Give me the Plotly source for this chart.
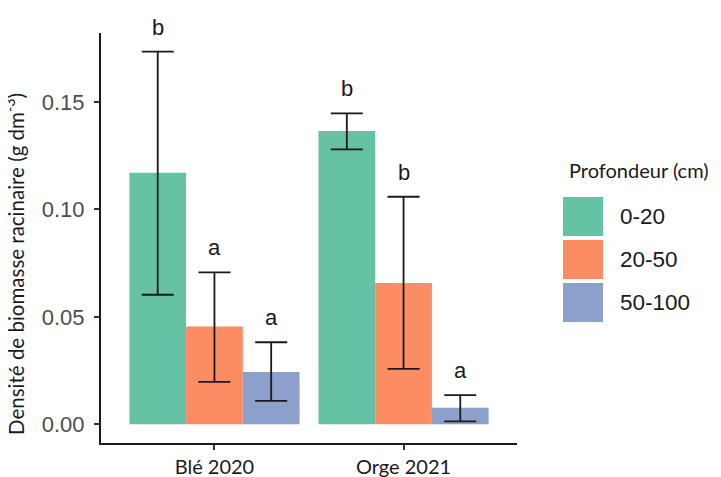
import plotly.graph_objects as go

# ---- data ----
cultures = ["Blé 2020", "Orge 2021"]
profondeurs = ["0-20", "20-50", "50-100"]
moyenne = {
    "0-20": [0.1170, 0.1365],
    "20-50": [0.0455, 0.0658],
    "50-100": [0.0244, 0.0077],
}
erreur_haut = {
    "0-20": [0.1734, 0.1447],
    "20-50": [0.0707, 0.1059],
    "50-100": [0.0382, 0.0136],
}
erreur_bas = {
    "0-20": [0.0603, 0.1279],
    "20-50": [0.0198, 0.0258],
    "50-100": [0.0109, 0.0014],
}
lettres = {
    "0-20": ["b", "b"],
    "20-50": ["a", "b"],
    "50-100": ["a", "a"],
}
y_ticks = [0.00, 0.05, 0.10, 0.15]

couleurs = {"0-20": "#66C2A5", "20-50": "#FC8D62", "50-100": "#8DA0CB"}

# ---- layout geometry (pixels, page coordinates) ----
PAGE_W, PAGE_H = 721, 477
OFF = 8  # default body margin of the html page
FIG_W, FIG_H = PAGE_W - OFF, PAGE_H - OFF
L, T, W, H = 101 - OFF, 33 - OFF, 416, 410


def px_x(px):
    return (px - OFF - L) / W


def px_y(py):
    return (T + H - (py - OFF)) / H


fig = go.Figure()
for p in profondeurs:
    m = moyenne[p]
    fig.add_trace(go.Bar(
        name=p,
        x=cultures,
        y=m,
        marker=dict(color=couleurs[p], line=dict(width=0)),
        error_y=dict(
            type="data",
            symmetric=False,
            array=[h - v for h, v in zip(erreur_haut[p], m)],
            arrayminus=[v - b for v, b in zip(m, erreur_bas[p])],
            color="#1a1a1a",
            thickness=1.8,
            width=16,
        ),
        showlegend=False,
    ))

# significance letters above error bars
n = len(profondeurs)
bar_w = 0.9 / n
for j, p in enumerate(profondeurs):
    for i, c in enumerate(cultures):
        fig.add_annotation(
            x=i + (j - (n - 1) / 2) * bar_w,
            y=erreur_haut[p][i],
            xref="x", yref="y",
            text=lettres[p][i],
            showarrow=False,
            yanchor="bottom",
            yshift=10,
            font=dict(family="Liberation Sans, Arial", size=22, color="#1a1a1a"),
        )

# custom legend (large square keys)
fig.add_annotation(
    x=px_x(567), y=px_y(170), xref="paper", yref="paper",
    text="Profondeur (cm)", showarrow=False, xanchor="left", yanchor="middle",
    font=dict(family="Lato, Calibri, sans-serif", size=20, color="#1a1a1a"),
)
key_tops = [197, 240, 283]
for p, top in zip(profondeurs, key_tops):
    fig.add_shape(
        type="rect", xref="paper", yref="paper",
        x0=px_x(563), x1=px_x(603), y0=px_y(top + 39), y1=px_y(top),
        fillcolor=couleurs[p], line=dict(width=0),
    )
    fig.add_annotation(
        x=px_x(618), y=px_y(top + 19.5), xref="paper", yref="paper",
        text=p, showarrow=False, xanchor="left", yanchor="middle",
        font=dict(family="Liberation Sans, Arial", size=22.5, color="#1a1a1a"),
    )

# y-axis title
fig.add_annotation(
    x=px_x(14), y=px_y(264), xref="paper", yref="paper",
    text="Densité de biomasse racinaire (g dm<sup>-3</sup>)",
    textangle=-90, showarrow=False, xanchor="center", yanchor="middle",
    font=dict(family="Lato, Calibri, sans-serif", size=20.5, color="#1a1a1a"),
)

ymax = max(max(v) for v in erreur_haut.values())

fig.update_layout(
    width=FIG_W, height=FIG_H,
    margin=dict(l=L, r=FIG_W - L - W, t=T, b=FIG_H - T - H, autoexpand=False),
    paper_bgcolor="white", plot_bgcolor="white",
    barmode="group", bargap=0.1, bargroupgap=0,
    showlegend=False,
)
fig.update_xaxes(
    type="category", range=[-0.6, len(cultures) - 1 + 0.6],
    showline=True, linecolor="#1a1a1a", linewidth=2,
    ticks="outside", ticklen=5, tickwidth=1.5, tickcolor="#333333",
    tickfont=dict(family="Lato, Calibri, sans-serif", size=20, color="#1a1a1a"),
    showgrid=False, zeroline=False, fixedrange=True,
)
fig.update_yaxes(
    range=[-0.05 * ymax, 1.05 * ymax],
    tickvals=y_ticks, tickformat=".2f",
    showline=True, linecolor="#1a1a1a", linewidth=2,
    ticks="outside", ticklen=5, tickwidth=1.5, tickcolor="#333333",
    ticklabelstandoff=5,
    tickfont=dict(family="Liberation Sans, Arial", size=22, color="#4D4D4D"),
    showgrid=False, zeroline=False, fixedrange=True,
)

fig.write_html("out.html")
